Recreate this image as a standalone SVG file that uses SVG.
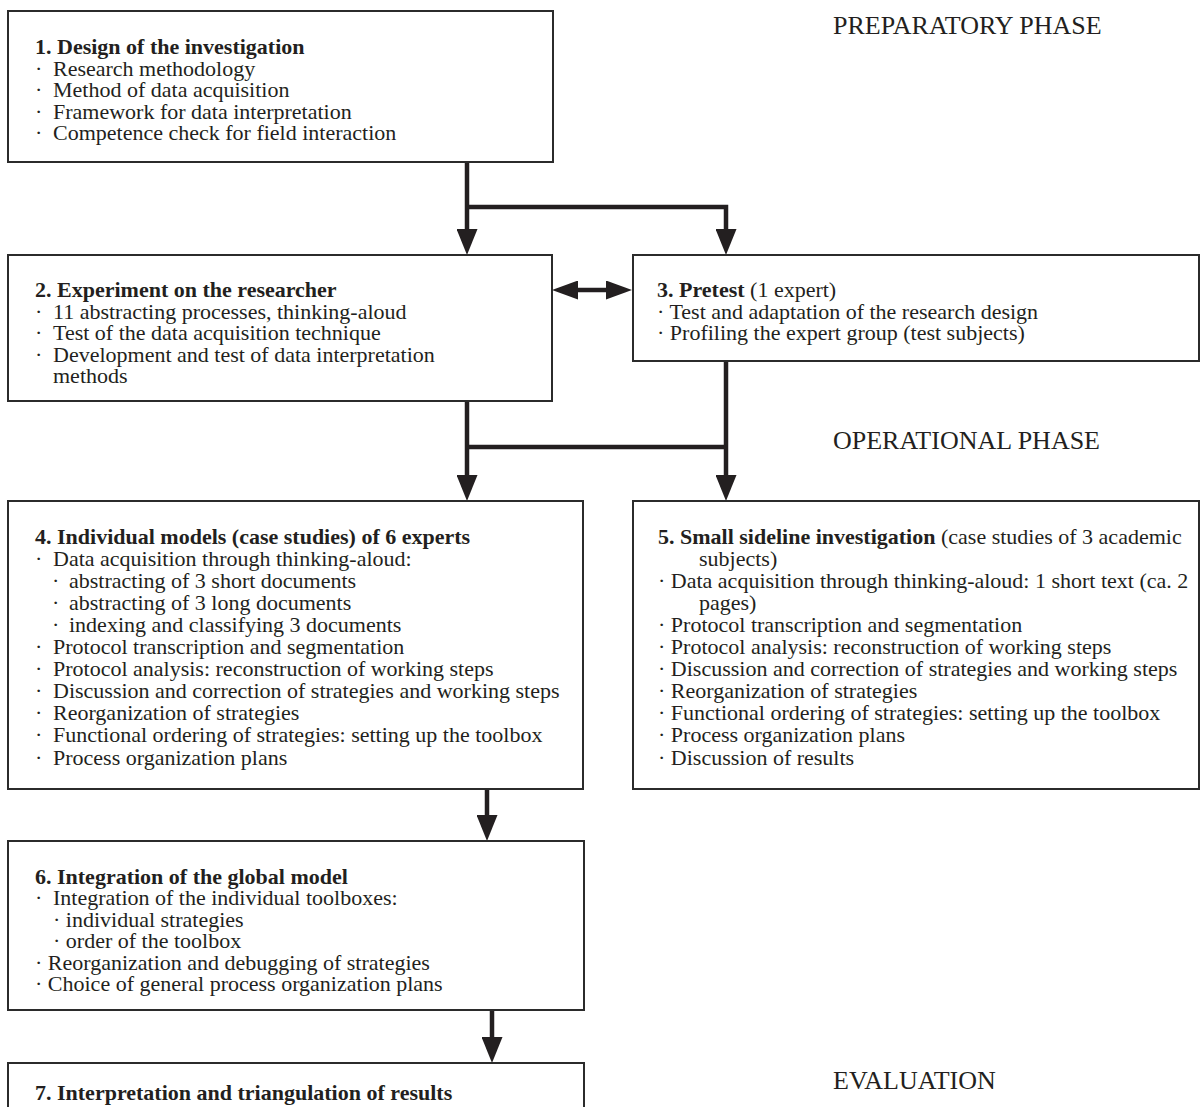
<svg xmlns="http://www.w3.org/2000/svg" width="1201" height="1107" viewBox="0 0 1201 1107">
  <style>
    .box { fill: #ffffff; stroke: #2b2b2b; stroke-width: 2; }
    .t { font-family: "Liberation Serif", "Times New Roman", serif; font-size: 22px; fill: #231f20; }
    .b { font-weight: bold; }
    .phase { font-family: "Liberation Serif", "Times New Roman", serif; font-size: 26px; fill: #231f20; }
    .wire { fill: none; stroke: #231f20; stroke-width: 4.5; }
  </style>
  <defs>
    <marker id="head" markerUnits="userSpaceOnUse" viewBox="0 0 26 21" markerWidth="26" markerHeight="21" refX="0" refY="10.5" orient="auto">
      <path d="M0,0 L26,10.5 L0,21 Z" fill="#231f20"/>
    </marker>
    <marker id="head-s" markerUnits="userSpaceOnUse" viewBox="0 0 26 19" markerWidth="26" markerHeight="19" refX="0" refY="9.5" orient="auto-start-reverse">
      <path d="M0,0 L26,9.5 L0,19 Z" fill="#231f20"/>
    </marker>
  </defs>

  <rect width="1201" height="1107" fill="#ffffff"/>

  <!-- phase labels -->
  <text class="phase" x="833" y="34">PREPARATORY PHASE</text>
  <text class="phase" x="833" y="449">OPERATIONAL PHASE</text>
  <text class="phase" x="833" y="1089">EVALUATION</text>

  <!-- connectors -->
  <g id="connectors">
    <path class="wire" d="M467,163 V229" marker-end="url(#head)"/>
    <path class="wire" d="M467,207 H726 V229" marker-end="url(#head)"/>
    <path class="wire" d="M578,290 H606" marker-start="url(#head-s)" marker-end="url(#head-s)"/>
    <path class="wire" d="M467,401 V475" marker-end="url(#head)"/>
    <path class="wire" d="M726,362 V475" marker-end="url(#head)"/>
    <path class="wire" d="M467,447 H726"/>
    <path class="wire" d="M487,790 V815" marker-end="url(#head)"/>
    <path class="wire" d="M492,1010 V1037" marker-end="url(#head)"/>
  </g>

  <!-- 1 -->
  <g id="node1">
    <rect class="box" x="8" y="11" width="545" height="151"/>
    <text class="t b" x="35" y="54">1. Design of the investigation</text>
    <text class="t">
      <tspan x="35" y="75.5">·</tspan><tspan x="53" y="75.5">Research methodology</tspan>
      <tspan x="35" y="97">·</tspan><tspan x="53" y="97">Method of data acquisition</tspan>
      <tspan x="35" y="118.5">·</tspan><tspan x="53" y="118.5">Framework for data interpretation</tspan>
      <tspan x="35" y="140">·</tspan><tspan x="53" y="140">Competence check for field interaction</tspan>
    </text>
  </g>

  <!-- 2 -->
  <g id="node2">
    <rect class="box" x="8" y="255" width="544" height="146"/>
    <text class="t b" x="35" y="297">2. Experiment on the researcher</text>
    <text class="t">
      <tspan x="35" y="318.5">·</tspan><tspan x="53" y="318.5">11 abstracting processes, thinking-aloud</tspan>
      <tspan x="35" y="340">·</tspan><tspan x="53" y="340">Test of the data acquisition technique</tspan>
      <tspan x="35" y="361.5">·</tspan><tspan x="53" y="361.5">Development and test of data interpretation</tspan>
      <tspan x="53" y="383">methods</tspan>
    </text>
  </g>

  <!-- 3 -->
  <g id="node3">
    <rect class="box" x="633" y="255" width="566" height="106"/>
    <text class="t" x="657" y="297"><tspan class="b">3. Pretest</tspan> (1 expert)</text>
    <text class="t">
      <tspan x="657" y="318.5">· Test and adaptation of the research design</tspan>
      <tspan x="657" y="340">· Profiling the expert group (test subjects)</tspan>
    </text>
  </g>

  <!-- 4 -->
  <g id="node4">
    <rect class="box" x="8" y="501" width="575" height="288"/>
    <text class="t b" x="35" y="543.5">4. Individual models (case studies) of 6 experts</text>
    <text class="t">
      <tspan x="35" y="565.6">·</tspan><tspan x="53" y="565.6">Data acquisition through thinking-aloud:</tspan>
      <tspan x="52" y="587.7">·</tspan><tspan x="69" y="587.7">abstracting of 3 short documents</tspan>
      <tspan x="52" y="609.8">·</tspan><tspan x="69" y="609.8">abstracting of 3 long documents</tspan>
      <tspan x="52" y="631.9">·</tspan><tspan x="69" y="631.9">indexing and classifying 3 documents</tspan>
      <tspan x="35" y="654">·</tspan><tspan x="53" y="654">Protocol transcription and segmentation</tspan>
      <tspan x="35" y="676.1">·</tspan><tspan x="53" y="676.1">Protocol analysis: reconstruction of working steps</tspan>
      <tspan x="35" y="698.2">·</tspan><tspan x="53" y="698.2">Discussion and correction of strategies and working steps</tspan>
      <tspan x="35" y="720.3">·</tspan><tspan x="53" y="720.3">Reorganization of strategies</tspan>
      <tspan x="35" y="742.4">·</tspan><tspan x="53" y="742.4">Functional ordering of strategies: setting up the toolbox</tspan>
      <tspan x="35" y="764.5">·</tspan><tspan x="53" y="764.5">Process organization plans</tspan>
    </text>
  </g>

  <!-- 5 -->
  <g id="node5">
    <rect class="box" x="633" y="501" width="566" height="288"/>
    <text class="t" x="658" y="543.5"><tspan class="b">5. Small sideline investigation</tspan> (case studies of 3 academic</text>
    <text class="t">
      <tspan x="699" y="565.6">subjects)</tspan>
      <tspan x="658" y="587.7">· Data acquisition through thinking-aloud: 1 short text (ca. 2</tspan>
      <tspan x="699" y="609.8">pages)</tspan>
      <tspan x="658" y="631.9">· Protocol transcription and segmentation</tspan>
      <tspan x="658" y="654">· Protocol analysis: reconstruction of working steps</tspan>
      <tspan x="658" y="676.1">· Discussion and correction of strategies and working steps</tspan>
      <tspan x="658" y="698.2">· Reorganization of strategies</tspan>
      <tspan x="658" y="720.3">· Functional ordering of strategies: setting up the toolbox</tspan>
      <tspan x="658" y="742.4">· Process organization plans</tspan>
      <tspan x="658" y="764.5">· Discussion of results</tspan>
    </text>
  </g>

  <!-- 6 -->
  <g id="node6">
    <rect class="box" x="8" y="841" width="576" height="169"/>
    <text class="t b" x="35" y="883.5">6. Integration of the global model</text>
    <text class="t">
      <tspan x="35" y="905">·</tspan><tspan x="53" y="905">Integration of the individual toolboxes:</tspan>
      <tspan x="53" y="926.5">· individual strategies</tspan>
      <tspan x="53" y="948">· order of the toolbox</tspan>
      <tspan x="35" y="969.5">· Reorganization and debugging of strategies</tspan>
      <tspan x="35" y="991">· Choice of general process organization plans</tspan>
    </text>
  </g>

  <!-- 7 -->
  <g id="node7">
    <rect class="box" x="8" y="1063" width="576" height="60"/>
    <text class="t b" x="35" y="1100">7. Interpretation and triangulation of results</text>
  </g>
</svg>
